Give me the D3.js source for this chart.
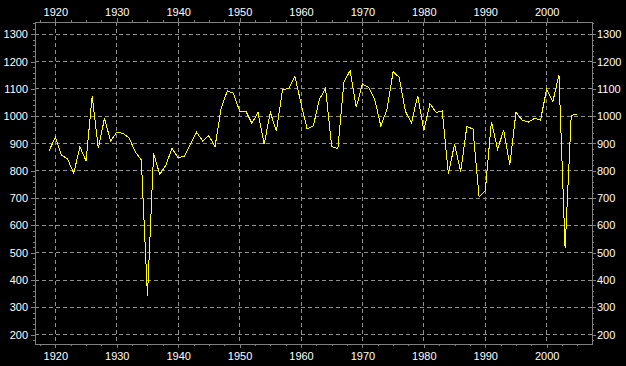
<html>
<head>
<meta charset="utf-8">
<title>Annual series 1919-2005</title>
<style>
  body { margin: 0; background: #000; }
  text { font-family: "Liberation Sans", Arial, sans-serif; font-size: 11px; fill: #fff; }
</style>
</head>
<body>
<script src="https://cdn.jsdelivr.net/npm/d3@7"></script>
<script>
var width = 626;
var height = 366;

// data
var years = d3.range(1919, 2006);
var values = [
  874, 923, 858, 843, 791, 888, 836, 1074, 882, 992,
  909, 941, 937, 921, 870, 840, 340, 864, 787, 821,
  882, 848, 854, 898, 941, 909, 929, 888, 1029, 1093,
  1084, 1019, 1019, 974, 1014, 897, 1014, 946, 1099, 1100,
  1147, 1047, 953, 964, 1062, 1102, 888, 882, 1126, 1167,
  1033, 1118, 1106, 1062, 964, 1025, 1163, 1142, 1017, 976,
  1075, 948, 1046, 1014, 1019, 788, 898, 797, 962, 953,
  705, 726, 980, 879, 949, 821, 1014, 986, 978, 992,
  986, 1099, 1053, 1151, 516, 1003, 1007
];
var xTicks = [1920, 1930, 1940, 1950, 1960, 1970, 1980, 1990, 2000];
var yTicks = [200, 300, 400, 500, 600, 700, 800, 900, 1000, 1100, 1200, 1300];

var plotLeft = 35, plotRight = 592, plotTop = 22, plotBottom = 344;

var x = d3.scaleLinear().domain([1916.69, 2007.38]).range([plotLeft, plotRight]);
var y = d3.scaleLinear().domain([165.6, 1345]).range([plotBottom, plotTop]);

var svg = d3.select('body')
    .append('svg')
    .attr('width', width)
    .attr('height', height);

svg.append('rect')
    .attr('width', width)
    .attr('height', height)
    .attr('fill', '#000');

// grid
var grid = svg.append('g')
    .attr('stroke', '#909090')
    .attr('stroke-dasharray', '4,3')
    .attr('shape-rendering', 'crispEdges');
grid.selectAll('.gx')
    .data(xTicks)
    .enter()
    .append('line')
    .attr('x1', function(d){ return x(d); })
    .attr('x2', function(d){ return x(d); })
    .attr('y1', plotTop)
    .attr('y2', plotBottom);
grid.selectAll('.gy')
    .data(yTicks)
    .enter()
    .append('line')
    .attr('x1', plotLeft)
    .attr('x2', plotRight)
    .attr('y1', function(d){ return y(d); })
    .attr('y2', function(d){ return y(d); });

// axes
var minorX = d3.range(1917.5, 2007.4, 2.5);
var minorY = d3.range(180, 1345, 20);

function styleAxis(g) {
    g.select('.domain').remove();
    g.selectAll('line').attr('stroke', '#808080').attr('shape-rendering', 'crispEdges');
    g.selectAll('text').attr('fill', '#fff');
}

svg.append('g')
    .attr('transform', 'translate(0,' + plotBottom + ')')
    .call(d3.axisBottom(x).tickValues(minorX).tickSize(2).tickFormat(''))
    .call(styleAxis);
svg.append('g')
    .attr('transform', 'translate(0,' + plotBottom + ')')
    .call(d3.axisBottom(x).tickValues(xTicks).tickSize(4).tickPadding(4).tickFormat(d3.format('d')))
    .call(styleAxis);
svg.append('g')
    .attr('transform', 'translate(0,' + plotTop + ')')
    .call(d3.axisTop(x).tickValues(minorX).tickSize(2).tickFormat(''))
    .call(styleAxis);
svg.append('g')
    .attr('transform', 'translate(0,' + plotTop + ')')
    .call(d3.axisTop(x).tickValues(xTicks).tickSize(4).tickPadding(2).tickFormat(d3.format('d')))
    .call(styleAxis);
svg.append('g')
    .attr('transform', 'translate(' + plotLeft + ',0)')
    .call(d3.axisLeft(y).tickValues(minorY).tickSize(2).tickFormat(''))
    .call(styleAxis);
svg.append('g')
    .attr('transform', 'translate(' + plotLeft + ',0)')
    .call(d3.axisLeft(y).tickValues(yTicks).tickSize(4).tickPadding(3).tickFormat(d3.format('d')))
    .call(styleAxis);
svg.append('g')
    .attr('transform', 'translate(' + plotRight + ',0)')
    .call(d3.axisRight(y).tickValues(minorY).tickSize(2).tickFormat(''))
    .call(styleAxis);
svg.append('g')
    .attr('transform', 'translate(' + plotRight + ',0)')
    .call(d3.axisRight(y).tickValues(yTicks).tickSize(4).tickPadding(1).tickFormat(d3.format('d')))
    .call(styleAxis);

// frame
svg.append('rect')
    .attr('x', plotLeft)
    .attr('y', plotTop)
    .attr('width', plotRight - plotLeft)
    .attr('height', plotBottom - plotTop)
    .attr('fill', 'none')
    .attr('stroke', '#808080')
    .attr('shape-rendering', 'crispEdges');

// series line
var line = d3.line()
    .x(function(d, i){ return x(years[i]); })
    .y(function(d){ return y(d); });

svg.append('path')
    .datum(values)
    .attr('d', line)
    .attr('fill', 'none')
    .attr('stroke', '#ffff00')
    .attr('stroke-width', 1)
    .attr('shape-rendering', 'crispEdges');
</script>
</body>
</html>
